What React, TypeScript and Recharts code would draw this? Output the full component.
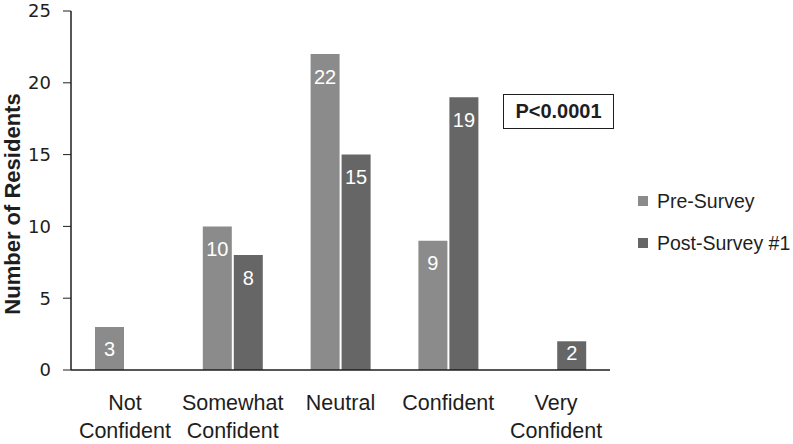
import React from 'react';
import { BarChart, Bar, XAxis, YAxis, LabelList } from 'recharts';

const categories = ['Not Confident', 'Somewhat Confident', 'Neutral', 'Confident', 'Very Confident'];
const tickLines = [['Not', 'Confident'], ['Somewhat', 'Confident'], ['Neutral'], ['Confident'], ['Very', 'Confident']];
const preSurvey = [3, 10, 22, 9, 0];
const postSurvey = [0, 8, 15, 19, 2];
const yTicks = [0, 5, 10, 15, 20, 25];
const seriesNames = ['Pre-Survey', 'Post-Survey #1'];
const pValueText = 'P<0.0001';

const PRE_COLOR = '#8b8b8b';
const POST_COLOR = '#666666';
const INK = '#1e1e1e';
const FONT = '"Liberation Sans", Arial, sans-serif';

const data = categories.map((name, i) => ({ name, pre: preSurvey[i], post: postSurvey[i] }));

function CategoryTick(props: any) {
  const { x, y, index } = props;
  const lines = tickLines[index] ?? [];
  return (
    <text x={x} y={y} textAnchor="middle" fill={INK} fontSize={21.5} fontFamily={FONT}>
      {lines.map((l, i) => (
        <tspan key={i} x={x} dy={i === 0 ? 40 : 28}>
          {l}
        </tspan>
      ))}
    </text>
  );
}

// white value inside the top of the bar; short bars push it up a bit
function BarValue(props: any) {
  const { x, y, width, height, value } = props;
  if (!value) return null;
  const off = Math.min(15, height - 25);
  return (
    <text
      x={x + width / 2}
      y={y + off + 14.5}
      textAnchor="middle"
      fill="#fff"
      fontSize={20}
      fontFamily={FONT}
    >
      {value}
    </text>
  );
}

function LegendBox() {
  const colors = [PRE_COLOR, POST_COLOR];
  return (
    <div style={{ position: 'absolute', left: 638, top: 180, fontFamily: FONT, fontSize: 19.5, color: INK }}>
      {seriesNames.map((n, i) => (
        <div key={n} style={{ display: 'flex', alignItems: 'center', height: 42, whiteSpace: 'nowrap' }}>
          <span style={{ width: 10, height: 10, background: colors[i], marginRight: 9, display: 'inline-block' }} />
          <span>{n}</span>
        </div>
      ))}
    </div>
  );
}

export default function App() {
  return (
    <div style={{ position: 'absolute', left: 0, top: 0, width: 793, height: 444, background: '#fff' }}>
      <BarChart
        width={793}
        height={444}
        data={data}
        margin={{ top: 11, right: 183, bottom: 14, left: 0 }}
        barSize={29}
        barGap={2}
      >
        <XAxis
          dataKey="name"
          tick={<CategoryTick />}
          tickLine={false}
          tickSize={0}
          tickMargin={0}
          height={60}
          interval={0}
          axisLine={{ stroke: INK, strokeWidth: 1.5 }}
        />
        <YAxis
          width={71}
          domain={[0, 25]}
          ticks={yTicks}
          tickSize={8}
          tickMargin={12}
          tickLine={{ stroke: INK, strokeWidth: 1 }}
          axisLine={{ stroke: INK, strokeWidth: 1.5 }}
          tick={{ fill: INK, fontSize: 18, fontFamily: '"DejaVu Sans", sans-serif' }}
          label={() => (
            <text
              x={12}
              y={204}
              transform="rotate(-90 12 204)"
              textAnchor="middle"
              dominantBaseline="central"
              fontSize={22}
              fontWeight="bold"
              fontFamily={FONT}
              fill={INK}
            >
              Number of Residents
            </text>
          )}
        />
        <Bar dataKey="pre" name={seriesNames[0]} fill={PRE_COLOR} isAnimationActive={false}>
          <LabelList dataKey="pre" content={<BarValue />} />
        </Bar>
        <Bar dataKey="post" name={seriesNames[1]} fill={POST_COLOR} isAnimationActive={false}>
          <LabelList dataKey="post" content={<BarValue />} />
        </Bar>
      </BarChart>
      <LegendBox />
      <div
        style={{
          position: 'absolute',
          left: 503,
          top: 94,
          width: 111,
          height: 35,
          boxSizing: 'border-box',
          border: `1.5px solid ${INK}`,
          display: 'flex',
          alignItems: 'center',
          justifyContent: 'center',
          fontFamily: FONT,
          fontWeight: 'bold',
          fontSize: 20,
          color: INK,
          background: '#fff',
        }}
      >
        {pValueText}
      </div>
    </div>
  );
}
